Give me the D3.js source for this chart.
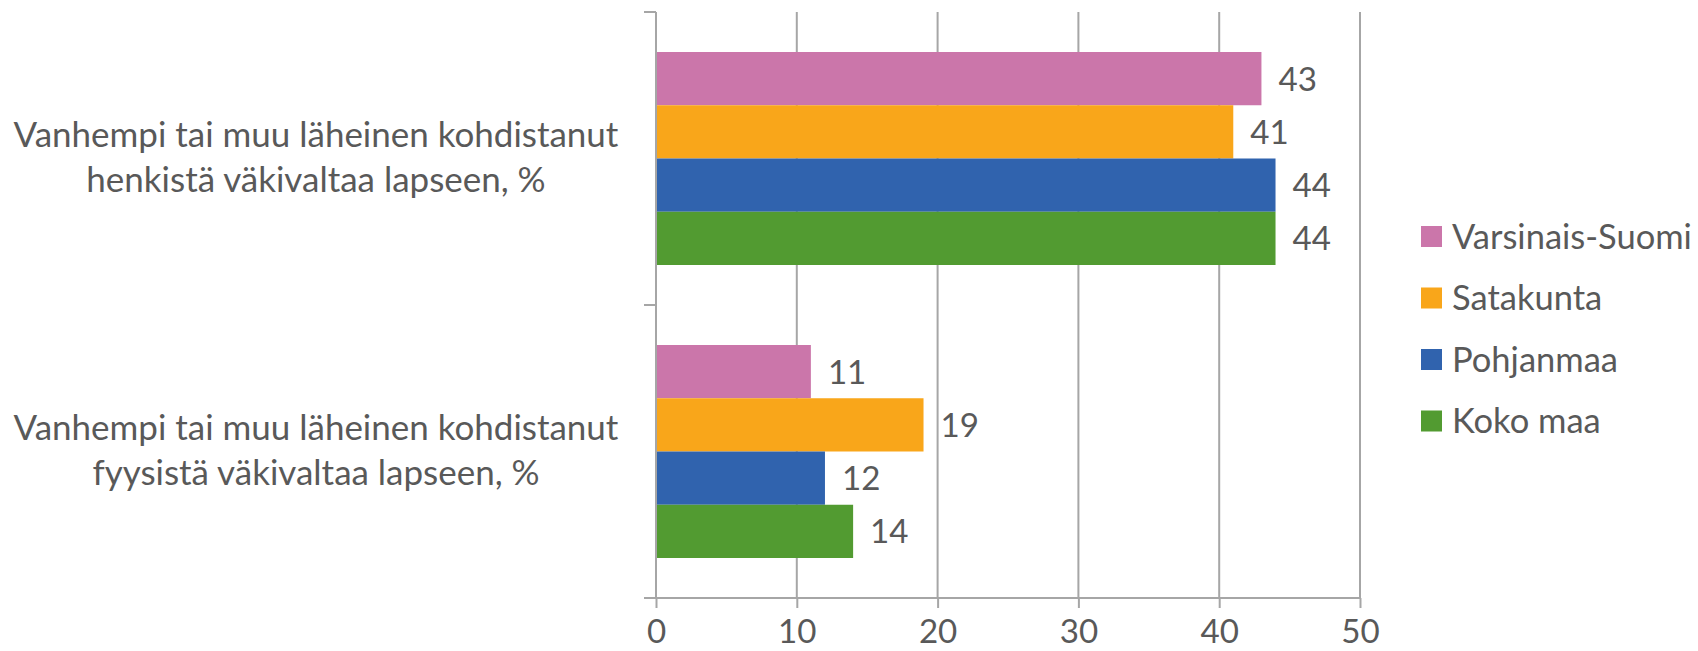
<!DOCTYPE html>
<html>
<head>
<meta charset="utf-8">
<script src="https://cdn.jsdelivr.net/npm/d3@7"></script>
<style>
  body { margin: 0; background: #fff; }
  text { font-family: Lato, "Open Sans", sans-serif; fill: #595959; }
</style>
</head>
<body>
<svg id="chart" width="1698" height="651"></svg>
<script>
// data
const categories = ['henkinen', 'fyysinen'];
const categoryLines = [
  ['Vanhempi tai muu läheinen kohdistanut', 'henkistä väkivaltaa lapseen, %'],
  ['Vanhempi tai muu läheinen kohdistanut', 'fyysistä väkivaltaa lapseen, %']
];
const series = ['Varsinais-Suomi', 'Satakunta', 'Pohjanmaa', 'Koko maa'];
const values = {
  'Varsinais-Suomi': [43, 11],
  'Satakunta': [41, 19],
  'Pohjanmaa': [44, 12],
  'Koko maa': [44, 14]
};
const xTicks = [0, 10, 20, 30, 40, 50];
const colors = ['#CB76AA', '#F9A61A', '#3063AE', '#529B31'];

const svg = d3.select('#chart');
const grey = '#a6a6a6';

const x = d3.scaleLinear().domain([0, 50]).range([656, 1360]);
const y = d3.scaleBand().domain(categories).range([12, 598]);
const inner = d3.scaleBand().domain(series)
  .range([40, y.bandwidth() - 40]);
const color = d3.scaleOrdinal().domain(series).range(colors);

// pick a font size so a sample string gets a given width
function fitSize(sample, target) {
  const t = svg.append('text').style('font-size', '40px').text(sample);
  const w = t.node().getComputedTextLength();
  t.remove();
  return 40 * target / w;
}
const catSize = fitSize(categoryLines[0][0], 605);
const legSize = fitSize('Varsinais-Suomi', 240);
const numSize = legSize * 0.96;

// gridlines
svg.append('g')
  .selectAll('line')
  .data(xTicks.slice(1))
  .join('line')
  .attr('x1', d => x(d)).attr('x2', d => x(d))
  .attr('y1', 12).attr('y2', 598)
  .attr('stroke', grey).attr('stroke-width', 2);

// bars
const rows = [];
series.forEach(s => categories.forEach((c, i) => rows.push({ s, c, v: values[s][i] })));

svg.append('g')
  .selectAll('rect')
  .data(rows)
  .join('rect')
  .attr('x', x(0))
  .attr('y', d => y(d.c) + inner(d.s))
  .attr('width', d => x(d.v) - x(0))
  .attr('height', inner.bandwidth())
  .attr('fill', d => color(d.s));

// value labels
svg.append('g')
  .selectAll('text')
  .data(rows)
  .join('text')
  .attr('x', d => x(d.v) + 17)
  .attr('y', d => y(d.c) + inner(d.s) + inner.bandwidth() / 2)
  .attr('dy', '0.36em')
  .style('font-size', numSize + 'px')
  .text(d => d.v);

// y axis with ticks at category boundaries
svg.append('line')
  .attr('x1', x(0)).attr('x2', x(0))
  .attr('y1', 12).attr('y2', 598)
  .attr('stroke', grey).attr('stroke-width', 2);
svg.append('g')
  .selectAll('line')
  .data([12, y(categories[1]), 598])
  .join('line')
  .attr('x1', 644).attr('x2', x(0))
  .attr('y1', d => d).attr('y2', d => d)
  .attr('stroke', grey).attr('stroke-width', 2);

// x axis
const xAxis = svg.append('g')
  .attr('transform', 'translate(0,598)')
  .call(d3.axisBottom(x).tickValues(xTicks).tickSize(10));
xAxis.select('.domain').remove();
xAxis.selectAll('.tick line').attr('stroke', grey).attr('stroke-width', 2);
xAxis.selectAll('.tick text')
  .attr('fill', '#595959')
  .attr('dy', null)
  .attr('y', 45)
  .style('font-size', numSize + 'px');
svg.append('line')
  .attr('x1', 644).attr('x2', 1360)
  .attr('y1', 598).attr('y2', 598)
  .attr('stroke', grey).attr('stroke-width', 2);

// category labels
const cat = svg.append('g')
  .selectAll('text')
  .data(categories)
  .join('text')
  .attr('text-anchor', 'middle')
  .attr('y', d => y(d) + y.bandwidth() / 2)
  .style('font-size', catSize + 'px');
cat.selectAll('tspan')
  .data((d, i) => categoryLines[i].map((l, k) => ({ l, k })))
  .join('tspan')
  .attr('x', 316)
  .attr('dy', d => d.k === 0 ? -12 : 45)
  .text(d => d.l);

// legend
const leg = svg.append('g')
  .selectAll('g')
  .data(series)
  .join('g')
  .attr('transform', (d, i) => `translate(1421,${236.5 + i * 61.5})`);
leg.append('rect')
  .attr('x', 0).attr('y', -10.5)
  .attr('width', 21).attr('height', 21)
  .attr('fill', d => color(d));
leg.append('text')
  .attr('x', 31)
  .attr('dy', '0.36em')
  .style('font-size', legSize + 'px')
  .text(d => d);
</script>
</body>
</html>
